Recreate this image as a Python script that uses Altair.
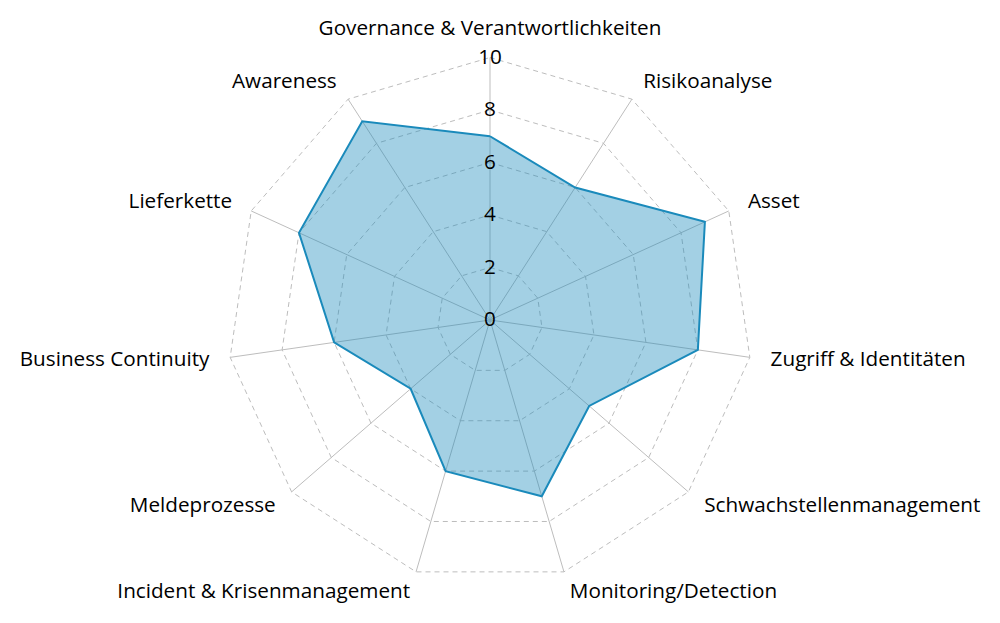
import altair as alt
import pandas as pd

categories = [
    "Governance & Verantwortlichkeiten", "Risikoanalyse", "Asset",
    "Zugriff & Identitäten", "Schwachstellenmanagement", "Monitoring/Detection",
    "Incident & Krisenmanagement", "Meldeprozesse", "Business Continuity",
    "Lieferkette", "Awareness",
]
values = [7, 6, 9, 8, 5, 7, 6, 4, 6, 8, 9]
tick_levels = [0, 2, 4, 6, 8, 10]
ring_levels = [2, 4, 6, 8, 10]

N = len(categories)
FONT = "Open Sans"
FS = 20.7
LINE = "#1a8abb"
GRID = "#bdbdbd"

# data tables built from the arrays
poly = pd.DataFrame({"idx": list(range(N + 1)),
                     "value": values + [values[0]],
                     "cat": categories + [categories[0]]})
rings = pd.DataFrame([{"level": lv, "idx": k} for lv in ring_levels for k in range(N + 1)])
spokes = pd.DataFrame({"idx": list(range(N)), "cat": categories})
ticks = pd.DataFrame({"tick": tick_levels})

ang = "2*PI*datum.idx/%d" % N
PX = 26.25
W, H = 984, 607
cx, cy = 482, 312
xs = alt.Scale(domain=[-cx / PX, (W - cx) / PX], nice=False, zero=False)
ys = alt.Scale(domain=[-(H - cy) / PX, cy / PX], nice=False, zero=False)
X = lambda f: alt.X(f, type="quantitative", scale=xs, axis=None)
Y = lambda f: alt.Y(f, type="quantitative", scale=ys, axis=None)

ring_layer = alt.Chart(rings).transform_calculate(
    x="datum.level*sin(%s)" % ang, y="datum.level*cos(%s)" % ang
).mark_line(stroke=GRID, strokeWidth=1, strokeDash=[5, 4]).encode(
    x=X("x:Q"), y=Y("y:Q"), detail="level:N", order="idx:Q")

spoke_layer = alt.Chart(spokes).transform_calculate(
    x="10*sin(%s)" % ang, y="10*cos(%s)" % ang, x0="0", y0="0"
).mark_rule(stroke=GRID, strokeWidth=1).encode(
    x=X("x0:Q"), y=Y("y0:Q"), x2="x:Q", y2="y:Q")

poly_layer = alt.Chart(poly).transform_calculate(
    x="datum.value*sin(%s)" % ang, y="datum.value*cos(%s)" % ang
).mark_line(stroke=LINE, strokeWidth=2, fill=LINE, fillOpacity=0.4,
            strokeJoin="miter").encode(
    x=X("x:Q"), y=Y("y:Q"), order="idx:Q")

tick_layer = alt.Chart(ticks).transform_calculate(x0="0").mark_text(
    font=FONT, fontSize=FS, color="#000000", align="center", baseline="middle"
).encode(x=X("x0:Q"), y=Y("tick:Q"), text=alt.Text("tick:Q"))

lab_base = alt.Chart(spokes).transform_calculate(
    s="sin(%s)" % ang, c="cos(%s)" % ang
).transform_calculate(
    r="10.8 + (abs(datum.s) < 0.01 ? 0.3 : 0)"
).transform_calculate(
    x="datum.r*datum.s", y="datum.r*datum.c"
)

def labels(filt, align):
    return lab_base.transform_filter(filt).mark_text(
        font=FONT, fontSize=FS, color="#000000", align=align, baseline="middle"
    ).encode(x=X("x:Q"), y=Y("y:Q"), text="cat:N")

lab_c = labels("abs(datum.s) < 0.01", "center")
lab_l = labels("datum.s >= 0.01", "left")
lab_r = labels("datum.s <= -0.01", "right")

chart = alt.layer(ring_layer, spoke_layer, poly_layer, tick_layer, lab_c, lab_l, lab_r).properties(
    width=W, height=H, padding=0, autosize=alt.AutoSizeParams(type="none")
).configure_view(stroke=None)

chart.save("out.html", embed_options={"renderer": "svg", "actions": False})
